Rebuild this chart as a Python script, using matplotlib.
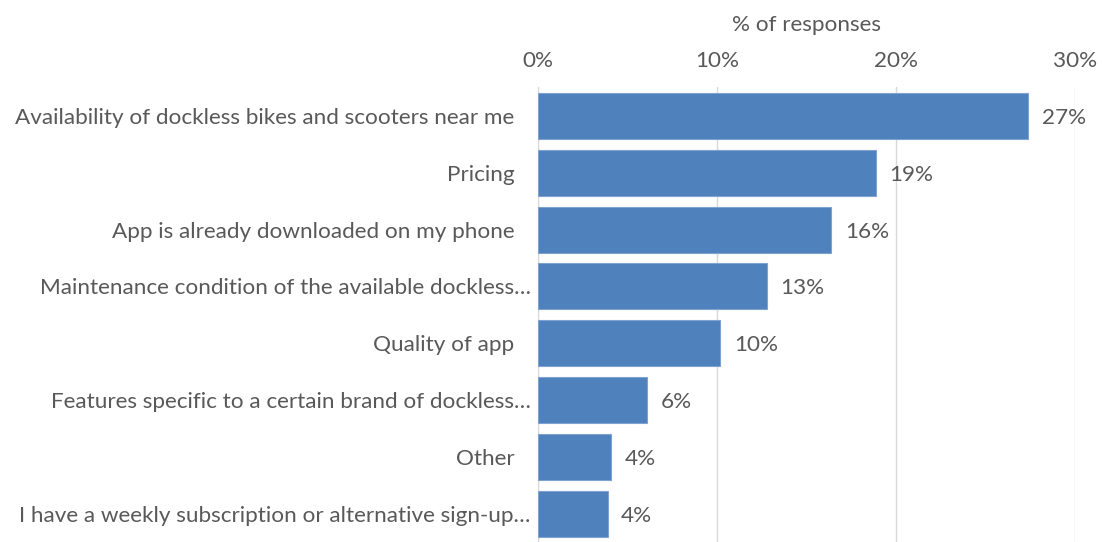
import matplotlib.pyplot as plt
from matplotlib.ticker import FuncFormatter

categories = [
    "Availability of dockless bikes and scooters near me",
    "Pricing",
    "App is already downloaded on my phone",
    "Maintenance condition of the available dockless\u2026",
    "Quality of app",
    "Features specific to a certain brand of dockless\u2026",
    "Other",
    "I have a weekly subscription or alternative sign-up\u2026",
]
values = [27.4, 18.9, 16.4, 12.8, 10.2, 6.1, 4.1, 3.9]
xticks = [0, 10, 20, 30]

text_color = "#595959"
bar_color = "#4F81BD"
fs = 16.2

plt.rcParams["font.family"] = ["Lato", "DejaVu Sans"]

fig = plt.figure(figsize=(11.02, 5.42), dpi=100)
ax = fig.add_axes([0.488, 0.0, 0.4875, 0.8386])

y = list(range(len(categories)))
ax.barh(y, values, height=0.81, color=bar_color, edgecolor="#7FA3D1",
        linewidth=0.8, zorder=3)
for yi, v in zip(y, values):
    ax.text(v + 0.75, yi, f"{v:.0f}%", va="center_baseline", ha="left",
            fontsize=fs, color=text_color)

# category labels; truncated ones sit closer to the axis, like Excel draws them
ax.set_yticks(y)
ax.set_yticklabels([])
for yi, cat in zip(y, categories):
    off = -5 if cat.endswith("\u2026") else -17
    ax.annotate(cat, (0, yi), xytext=(off, 0), textcoords="offset points",
                ha="right", va="center_baseline", fontsize=fs,
                color=text_color, annotation_clip=False)
ax.set_ylim(len(categories) - 0.5, -0.5)

ax.set_xlim(0, 30)
ax.set_xticks(xticks)
ax.xaxis.set_major_formatter(FuncFormatter(lambda v, p: f"{v:.0f}%"))
ax.xaxis.tick_top()
ax.xaxis.set_label_position("top")
ax.set_xlabel("% of responses", fontsize=fs, color=text_color, labelpad=14)
ax.tick_params(axis="x", length=0, pad=12, labelsize=fs, labelcolor=text_color)
ax.tick_params(axis="y", length=0)

ax.grid(axis="x", color="#D9D9D9", linewidth=1, zorder=0)
for side in ["top", "right", "bottom"]:
    ax.spines[side].set_visible(False)
ax.spines["left"].set_color("#D9D9D9")

fig.savefig("out.png", dpi=100)
